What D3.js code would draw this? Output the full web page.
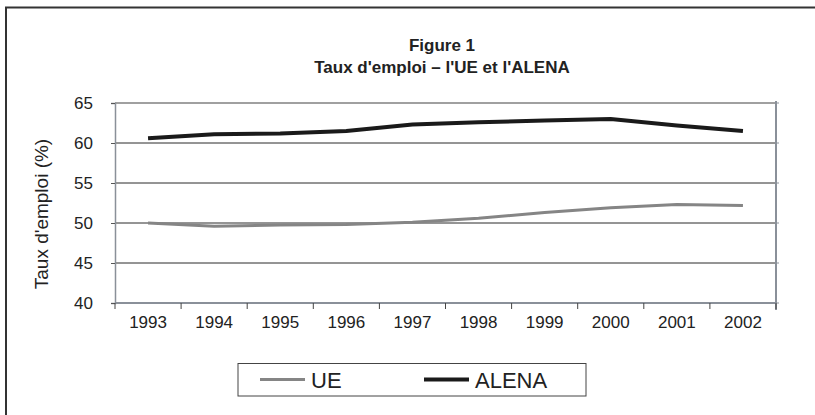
<!DOCTYPE html>
<html lang="fr">
<head>
<meta charset="UTF-8">
<title>Figure 1</title>
<script src="https://d3js.org/d3.v7.min.js"></script>
<style>
    body { margin: 0; background: #fff; }
    text { font-family: "Liberation Sans", Arial, sans-serif; fill: #222; }
</style>
</head>
<body>
<script>
    const years = ["1993","1994","1995","1996","1997","1998","1999","2000","2001","2002"];
    const ue    = [50.0, 49.6, 49.75, 49.8, 50.1, 50.6, 51.3, 51.9, 52.3, 52.2];
    const alena = [60.6, 61.1, 61.2, 61.5, 62.3, 62.6, 62.8, 63.0, 62.2, 61.5];
    const yTicks = [40, 45, 50, 55, 60, 65];

    const svg = d3.select("body").append("svg")
        .attr("width", 815).attr("height", 415);

    // outer frame (left and top only)
    svg.append("path")
        .attr("d", "M6,415 V7.5 H815")
        .attr("fill", "none").attr("stroke", "#333").attr("stroke-width", 2);

    const pL = 115, pR = 776, pT = 103, pB = 303;

    const x = d3.scaleBand().domain(years).range([pL, pR]);
    const y = d3.scaleLinear().domain([40, 65]).range([pB, pT]);

    svg.append("text").attr("x", 442).attr("y", 51)
        .attr("text-anchor", "middle").attr("font-size", 17).attr("font-weight", "bold")
        .text("Figure 1");
    svg.append("text").attr("x", 442).attr("y", 73)
        .attr("text-anchor", "middle").attr("font-size", 17).attr("font-weight", "bold")
        .text("Taux d'emploi – l'UE et l'ALENA");

    // gridlines
    svg.append("g").selectAll("line").data(yTicks.filter(d => d > 40 && d < 65)).join("line")
        .attr("x1", pL).attr("x2", pR)
        .attr("y1", d => y(d)).attr("y2", d => y(d))
        .attr("stroke", "#2a2a2a").attr("stroke-width", 1);

    // plot frame
    svg.append("line").attr("x1", pL).attr("x2", pR).attr("y1", pT).attr("y2", pT)
        .attr("stroke", "#808080").attr("stroke-width", 1.5);
    svg.append("line").attr("x1", pR).attr("x2", pR).attr("y1", pT - 2).attr("y2", pB + 7)
        .attr("stroke", "#8a9099").attr("stroke-width", 2);

    // y axis
    const yAxis = svg.append("g").attr("transform", `translate(${pL},0)`)
        .call(d3.axisLeft(y).tickValues(yTicks).tickSize(4).tickPadding(18));
    yAxis.select(".domain").attr("stroke", "#8a9099").attr("stroke-width", 1.5);
    yAxis.selectAll(".tick line").attr("stroke", "#555");
    yAxis.selectAll("text").attr("font-size", 17).attr("fill", "#222")
        .attr("font-family", "Liberation Sans, Arial, sans-serif");

    // right-side small ticks
    svg.append("g").selectAll("line").data(yTicks).join("line")
        .attr("x1", pR).attr("x2", pR + 3)
        .attr("y1", d => y(d)).attr("y2", d => y(d))
        .attr("stroke", "#8a9099");

    // x axis with ticks at band edges
    const xAxis = svg.append("g").attr("transform", `translate(0,${pB})`);
    xAxis.append("line").attr("x1", pL).attr("x2", pR)
        .attr("stroke", "#8a9099").attr("stroke-width", 2);
    const edges = years.map(d => x(d)).concat([pR]);
    xAxis.selectAll("line.tk").data(edges).join("line").attr("class", "tk")
        .attr("x1", d => d).attr("x2", d => d).attr("y1", 0).attr("y2", 6)
        .attr("stroke", "#444");
    xAxis.selectAll("text").data(years).join("text")
        .attr("x", d => x(d) + x.bandwidth() / 2).attr("y", 25)
        .attr("text-anchor", "middle").attr("font-size", 17)
        .text(d => d);

    svg.append("text")
        .attr("transform", "translate(48,214) rotate(-90)")
        .attr("text-anchor", "middle").attr("font-size", 19)
        .text("Taux d'emploi (%)");

    const line = d3.line()
        .x((d, i) => x(years[i]) + x.bandwidth() / 2)
        .y(d => y(d));

    svg.append("path").datum(ue).attr("d", line)
        .attr("fill", "none").attr("stroke", "#858585").attr("stroke-width", 3);
    svg.append("path").datum(alena).attr("d", line)
        .attr("fill", "none").attr("stroke", "#1a1a1a").attr("stroke-width", 4);

    // legend
    const lg = svg.append("g");
    lg.append("rect").attr("x", 238).attr("y", 363.5).attr("width", 348).attr("height", 32.5)
        .attr("fill", "none").attr("stroke", "#444").attr("stroke-width", 1);
    const items = [
        {name: "UE", color: "#858585", w: 3, x: 260},
        {name: "ALENA", color: "#1a1a1a", w: 4, x: 424}
    ];
    items.forEach(it => {
        lg.append("line").attr("x1", it.x).attr("x2", it.x + 45).attr("y1", 379.5).attr("y2", 379.5)
            .attr("stroke", it.color).attr("stroke-width", it.w);
        lg.append("text").attr("x", it.x + 51).attr("y", 388).attr("font-size", 22)
            .text(it.name);
    });
</script>
</body>
</html>
